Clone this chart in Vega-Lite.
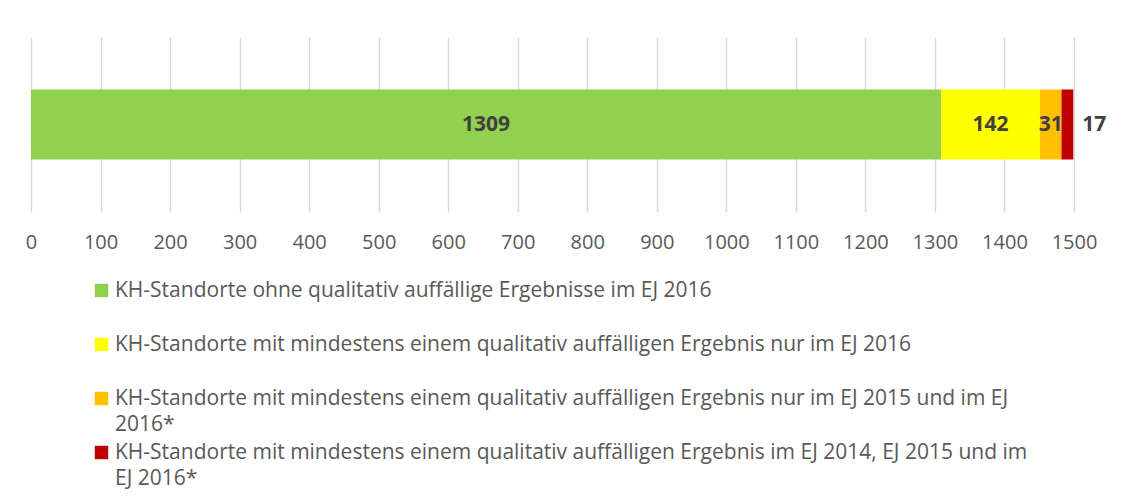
{
  "$schema": "https://vega.github.io/schema/vega-lite/v6.json",
  "width": 1043,
  "height": 175,
  "autosize": {"type": "none"},
  "padding": {"left": 31, "top": 37, "right": 72, "bottom": 290},
  "background": "white",
  "config": {
    "view": {"stroke": null},
    "font": "Open Sans",
    "style": {"guide-label": {"lineHeight": 26}}
  },
  "data": {
    "values": [
      {"gruppe": "KH-Standorte", "kategorie": "KH-Standorte ohne qualitativ auffällige Ergebnisse im EJ 2016", "anzahl": 1309},
      {"gruppe": "KH-Standorte", "kategorie": "KH-Standorte mit mindestens einem qualitativ auffälligen Ergebnis nur im EJ 2016", "anzahl": 142},
      {"gruppe": "KH-Standorte", "kategorie": "KH-Standorte mit mindestens einem qualitativ auffälligen Ergebnis nur im EJ 2015 und im EJ 2016*", "anzahl": 31},
      {"gruppe": "KH-Standorte", "kategorie": "KH-Standorte mit mindestens einem qualitativ auffälligen Ergebnis im EJ 2014, EJ 2015 und im EJ 2016*", "anzahl": 17}
    ]
  },
  "encoding": {
    "y": {"field": "gruppe", "type": "nominal", "axis": null, "scale": {"paddingInner": 0.4286, "paddingOuter": 0.4286}}
  },
  "layer": [
    {
      "mark": {"type": "bar"},
      "encoding": {
        "x": {
          "field": "anzahl", "type": "quantitative", "stack": "zero",
          "scale": {"domain": [0, 1500], "nice": false},
          "axis": {
            "title": null, "values": [0,100,200,300,400,500,600,700,800,900,1000,1100,1200,1300,1400,1500],
            "format": "d",
            "domain": false, "ticks": false, "grid": true, "gridColor": "#d9d9d9", "gridWidth": 1.5,
            "labelFontSize": 20, "labelColor": "#595959", "labelPadding": 20, "labelFlush": false
          }
        },
        "color": {
          "field": "kategorie", "type": "nominal",
          "scale": {
            "domain": [
              "KH-Standorte ohne qualitativ auffällige Ergebnisse im EJ 2016",
              "KH-Standorte mit mindestens einem qualitativ auffälligen Ergebnis nur im EJ 2016",
              "KH-Standorte mit mindestens einem qualitativ auffälligen Ergebnis nur im EJ 2015 und im EJ 2016*",
              "KH-Standorte mit mindestens einem qualitativ auffälligen Ergebnis im EJ 2014, EJ 2015 und im EJ 2016*"
            ],
            "range": ["#92D050", "#FFFF00", "#FFC000", "#C00000"]
          },
          "legend": {
            "orient": "none", "legendX": 60, "legendY": 243, "direction": "vertical", "title": null,
            "padding": 0, "symbolType": "square", "symbolSize": 180, "symbolStrokeWidth": 0,
            "labelFontSize": 21, "labelColor": "#595959", "labelLimit": 0, "labelOffset": 3,
            "rowPadding": 6, "labelBaseline": "middle",
            "labelExpr": "indexof(datum.label, 'nur im EJ 2015') > 0 ? ['KH-Standorte mit mindestens einem qualitativ auffälligen Ergebnis nur im EJ 2015 und im EJ', '2016*'] : indexof(datum.label, 'EJ 2014') > 0 ? ['KH-Standorte mit mindestens einem qualitativ auffälligen Ergebnis im EJ 2014, EJ 2015 und im', 'EJ 2016*'] : [datum.label, '']"
          }
        },
        "order": {"field": "anzahl", "sort": "descending"}
      }
    },
    {
      "transform": [
        {"stack": "anzahl", "groupby": ["gruppe"], "sort": [{"field": "anzahl", "order": "descending"}], "as": ["x0", "x1"]},
        {"calculate": "(datum.x0 + datum.x1) / 2", "as": "mitte"},
        {"filter": "datum.anzahl > 20"}
      ],
      "mark": {"type": "text", "fontWeight": "bold", "fontSize": 21, "color": "#404040"},
      "encoding": {
        "x": {"field": "mitte", "type": "quantitative"},
        "text": {"field": "anzahl", "type": "quantitative"}
      }
    },
    {
      "transform": [
        {"stack": "anzahl", "groupby": ["gruppe"], "sort": [{"field": "anzahl", "order": "descending"}], "as": ["x0", "x1"]},
        {"filter": "datum.anzahl <= 20"}
      ],
      "mark": {"type": "text", "fontWeight": "bold", "fontSize": 21, "color": "#404040", "align": "left", "dx": 9},
      "encoding": {
        "x": {"field": "x1", "type": "quantitative"},
        "text": {"field": "anzahl", "type": "quantitative"}
      }
    }
  ]
}
